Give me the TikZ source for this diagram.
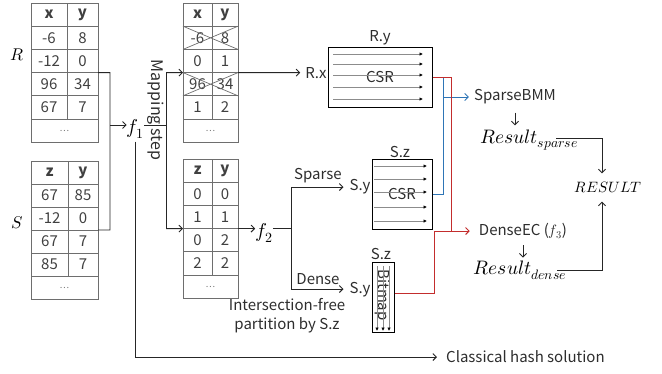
\documentclass[tikz,border=0pt]{standalone}
\usepackage{fontspec}
\usepackage{unicode-math}
\setmainfont{Noto Sans CJK SC}
\setmathfont{Latin Modern Math}
\usetikzlibrary{arrows.meta}
\definecolor{myblue}{RGB}{46,117,182}
\definecolor{myred}{RGB}{195,45,45}
\definecolor{tabgray}{RGB}{110,110,110}
\definecolor{txt}{RGB}{45,45,45}
\newcommand\mktab[7]{%
  \draw[tabline] (#2,#5) rectangle (#4,{#5+6*#6});
  \foreach \k in {1,...,5} {\draw[tabline] (#2,{#5+\k*#6}) -- (#4,{#5+\k*#6});
    \coordinate (#1-e\k) at (#4,{#5+\k*#6});
    \coordinate (#1-w\k) at (#2,{#5+\k*#6});}
  \draw[tabline] (#3,#5) -- (#3,{#5+5*#6});
  \foreach \a/\b [count=\i from 0] in {#7} {
    \node[tabtxt] (#1-\i-l) at ({(#2+#3)/2},{#5+(\i+0.5)*#6}) {\a};
    \node[tabtxt] (#1-\i-r) at ({(#3+#4)/2},{#5+(\i+0.5)*#6}) {\b};
  }
  \node[dots] (#1-dots) at ({(#2+#4)/2},{#5+5.5*#6}) {\ldots};
}
\begin{document}
\begin{tikzpicture}[x=1pt,y=-1pt,
  every node/.style={font=\fontsize{15}{17}\selectfont, text=txt, inner sep=0pt},
  tabtxt/.style={text=black!75},
  dots/.style={font=\fontsize{9}{10}\selectfont, text=black!55},
  tabline/.style={draw=tabgray, line width=0.9pt},
  conn/.style={draw=black!85, line width=0.9pt},
  arr/.style={-{Straight Barb[length=3.5pt,width=7pt]}},
  inarr/.style={draw=black!45, line width=0.6pt, -{Latex[length=3.5pt,width=3.5pt,color=black]}},
  csrbox/.style={draw=black, line width=1pt},
  bluel/.style={draw=myblue, line width=1pt},
  redl/.style={draw=myred, line width=1pt},
  mathbig/.style={font=\fontsize{20}{22}\selectfont, text=black},
  mathres/.style={font=\fontsize{19.5}{22}\selectfont, text=black},
  mathmid/.style={font=\fontsize{17}{19}\selectfont, text=black},
  mathcap/.style={font=\fontsize{15}{18}\selectfont, text=black},
  lbl/.style={inner xsep=5pt}
]
\useasboundingbox (0,0) rectangle (662,373);

% tables
\mktab{R}{31}{67}{98}{3}{23.2}{\textbf{x}/\textbf{y},-6/8,-12/0,96/34,67/7}
\mktab{S}{31}{68}{98}{161}{23}{\textbf{z}/\textbf{y},67/85,-12/0,67/7,85/7}
\mktab{M}{183}{212}{238}{3}{23.2}{\textbf{x}/\textbf{y},-6/8,0/1,96/34,1/2}
\mktab{N}{183}{212}{238}{159}{23.2}{\textbf{z}/\textbf{y},0/0,1/1,0/2,2/2}
\draw[tabline,line width=0.7pt] (M-w1) -- (M-e2) (M-w2) -- (M-e1);
\draw[tabline,line width=0.7pt] (M-w3) -- (M-e4) (M-w4) -- (M-e3);

\node[mathmid] (Rl) at (17,55) {$R$};
\node[mathmid] (Sl) at (17,223) {$S$};

% f1
\node[mathbig] (f1) at (135.5,129) {$f_1$};
\coordinate (jR) at (110,72.6);
\coordinate (jS) at (110,230);
\coordinate (j1) at (110,125);
\draw[conn] (R-e3) -- (jR) -- (jS) -- (S-e3);
\draw[conn,arr] (j1) -- (j1 -| f1.west);

% mapping step
\coordinate (jm) at (166,125);
\coordinate (jmt) at (166,72.6);
\coordinate (jmb) at (166,228.6);
\draw[conn] (f1.east |- jm) -- (jm);
\draw[conn] (jmt) -- (jmb);
\draw[conn,arr] (jmt) -- (M-w3);
\draw[conn,arr] (jmb) -- (N-w3);
\node[rotate=-90, font=\fontsize{16}{18}\selectfont] (map) at (156,110) {Mapping step};

% classical
\node[anchor=west, inner xsep=9pt] (cls) at (437,357) {Classical hash solution};
\draw[conn,arr] ([yshift=-3pt]f1.south) |- (cls.west);

% R CSR
\node[lbl] (Rx) at (316,72.6) {R.x};
\draw[conn,arr] (M-e3) -- (Rx.west);
\node[csrbox, minimum width=104pt, minimum height=60pt] (csrR) at (380,77) {CSR};
\foreach \yy in {54,64,75,87,99} \draw[inarr] (333,\yy) -- (423,\yy);
\node (Ry) at (380,38) {R.y};

% f2 and partition
\node[mathbig] (f2) at (264,233) {$f_2$};
\draw[conn,arr] (N-e3) -- (N-e3 -| f2.west);
\coordinate (b2) at (291,228.6);
\coordinate (bt) at (291,187);
\coordinate (bb) at (291,289);
\draw[conn] (f2.east |- b2) -- (b2);
\draw[conn] (bt) -- (bb);
\node[inner xsep=6pt] (Sy1) at (360,187) {S.y};
\node[inner xsep=6pt] (Sy2) at (360,290) {S.y};
\draw[conn,arr] (bt) -- (Sy1.west);
\draw[conn,arr] (bb) -- (Sy2.west |- bb);
\node (sp) at (318,176) {Sparse};
\node (dn) at (318,279) {Dense};
\node[align=center, font=\fontsize{15}{19}\selectfont] (inter) at (287,316) {Intersection-free\\partition by S.z};

% S CSR
\node[csrbox, minimum width=60pt, minimum height=70pt] (csrS) at (402,194) {CSR};
\foreach \yy in {166,179,192,207,221} \draw[inarr] (374,\yy) -- (427,\yy);
\node (Sz1) at (400,152) {S.z};

% Bitmap
\node[draw=black, line width=1pt, minimum width=22pt, minimum height=70pt] (bm) at (383,297) {};
\node[rotate=-90] (bmt) at (383,295) {Bitmap};
\foreach \xx in {377,383,389} \draw[inarr] (\xx,266) -- (\xx,331);
\node (Sz2) at (381,254) {S.z};

% right side
\node[inner xsep=5pt] (sbmm) at (515,97) {SparseBMM};
\node[inner xsep=9pt] (dense) at (523,231) {DenseEC ($f_3$)};
\node[mathres] (rs) at (529,140) {$Result_{sparse}$};
\node[mathres] (rd) at (520,270) {$Result_{dense}$};
\node[mathcap] (RES) at (608,187) {$RESULT$};

\coordinate (bj) at (443,194);
\draw[bluel] (csrR.east -| bj) -- (bj) -- (csrS.east);
\draw[bluel,arr] (bj |- sbmm.west) -- (sbmm.west);
\coordinate (rj) at (451,231);
\coordinate (rb) at (434,231);
\draw[redl] (csrR.east) -| (rj);
\draw[redl] ([yshift=4pt]bm.east) -| (rb);
\draw[redl,arr] (rb) -- (dense.west);

\draw[conn,arr,shorten <=8pt,shorten >=4pt] (sbmm.south) -- (sbmm.south |- rs.north);
\draw[conn,arr,shorten <=6pt,shorten >=3pt] (dense.south) -- (dense.south |- rd.north);
\coordinate (rsout) at (556,138);
\coordinate (rdout) at (557,270);
\draw[conn,arr,shorten >=8pt] (rsout) -| ([xshift=-6pt]RES.north);
\draw[conn,arr,shorten >=9pt] (rdout) -| ([xshift=-6pt]RES.south);
\end{tikzpicture}
\end{document}
